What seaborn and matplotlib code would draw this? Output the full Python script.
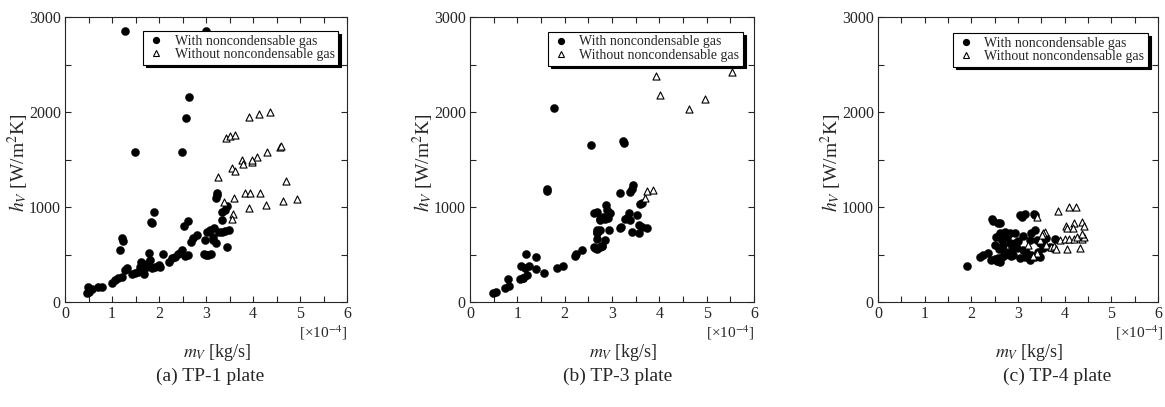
"""
plot.py - heat transfer coefficient vs vapour mass flow, three test plates.
"""

import matplotlib
matplotlib.use("Agg")
import pandas as pd
import matplotlib.pyplot as plt
import seaborn as sns
from matplotlib.lines import Line2D
from matplotlib.ticker import MultipleLocator

# m_V in units of 1e-4 kg/s, h_V in W/m2K

# TP-1 plate
tp1_with_x = [1.28, 3.00, 2.63, 2.57, 1.48, 2.49, 1.90, 1.83, 1.84, 1.22, 1.23, 1.16,
              2.61, 2.54, 2.80, 2.73, 2.68, 2.98, 2.96, 1.79, 2.09, 2.48, 2.45, 2.40,
              2.34, 2.27, 2.21, 2.61, 2.55, 1.99, 2.02, 1.91, 1.86, 1.81, 1.76, 1.70,
              1.62, 1.60, 1.55, 1.49, 1.42, 1.67, 1.63, 1.31, 1.28, 1.21, 1.13, 1.06,
              0.99, 0.78, 0.71, 0.57, 0.50, 0.48, 0.47, 3.23, 3.21, 3.24, 3.45, 3.40,
              3.35, 3.35, 3.16, 3.08, 3.01, 3.48, 3.41, 3.34, 3.27, 3.14, 3.14, 3.44,
              3.05, 3.10, 3.00, 3.22]
tp1_with_y = [2850, 2850, 2158, 1937, 1580, 1580, 951, 845, 830, 670, 645, 547,
              856, 796, 705, 670, 630, 653, 505, 512, 505, 547, 519, 505,
              477, 460, 425, 495, 484, 389, 372, 365, 354, 442, 407, 354,
              425, 372, 319, 302, 295, 295, 330, 354, 337, 266, 249, 232,
              197, 161, 154, 133, 109, 154, 91, 1126, 1100, 1143, 1011, 968,
              950, 863, 775, 758, 740, 758, 747, 740, 733, 688, 653, 582,
              490, 510, 500, 620]
tp1_without_x = [3.92, 4.13, 4.36, 3.43, 3.51, 3.62, 4.57, 4.59, 4.29, 4.08, 3.97, 3.98,
                 3.76, 3.79, 3.56, 3.62, 3.26, 4.70, 3.82, 3.94, 4.14, 3.60, 3.39, 3.92,
                 4.27, 4.63, 4.94, 3.58, 3.55]
tp1_without_y = [1944, 1979, 2003, 1730, 1747, 1761, 1635, 1640, 1582, 1530, 1477, 1495,
                 1495, 1453, 1407, 1382, 1312, 1277, 1144, 1144, 1151, 1091, 1056, 986,
                 1018, 1067, 1081, 926, 877]

# TP-3 plate
tp3_with_x = [1.78, 2.55, 3.24, 3.26, 1.62, 1.62, 3.45, 3.42, 3.38, 3.18, 3.59, 3.63,
              2.87, 2.89, 2.96, 2.82, 2.92, 2.85, 2.75, 3.35, 3.31, 3.27, 3.38, 3.52,
              3.20, 3.18, 2.94, 3.42, 3.58, 3.63, 3.73, 3.58, 2.85, 2.78, 2.75, 2.61,
              2.68, 2.75, 2.68, 2.68, 2.68, 2.68, 2.61, 2.64, 2.68, 2.75, 2.78, 2.22,
              2.25, 2.37, 1.83, 1.96, 1.56, 1.06, 1.13, 1.20, 1.16, 1.25, 1.18, 1.39,
              1.39, 1.07, 1.11, 0.81, 0.74, 0.83, 0.49, 0.56]
tp3_with_y = [2045, 1653, 1695, 1670, 1186, 1165, 1232, 1193, 1158, 1144, 1032, 1039,
              1021, 968, 933, 898, 884, 870, 870, 933, 884, 874, 863, 916,
              793, 775, 763, 740, 723, 793, 775, 811, 653, 590, 758, 933,
              951, 863, 740, 758, 723, 660, 579, 572, 561, 579, 586, 484,
              505, 547, 354, 379, 302, 239, 253, 288, 358, 383, 509, 474,
              351, 383, 253, 242, 147, 165, 91, 109]
tp3_without_x = [3.70, 3.75, 3.87, 3.94, 4.02, 4.62, 4.97, 5.53]
tp3_without_y = [1091, 1172, 1179, 2379, 2179, 2028, 2140, 2420]

# TP-4 plate
tp4_with_x = [1.91, 2.44, 2.47, 2.58, 2.61, 3.04, 3.08, 3.15, 3.36, 3.34, 2.19, 2.26,
              2.36, 2.43, 2.50, 2.58, 2.65, 2.72, 2.54, 2.61, 2.72, 2.65, 2.76, 2.83,
              2.94, 2.51, 2.69, 2.83, 2.94, 2.87, 2.97, 3.11, 3.18, 3.29, 3.04, 3.15,
              3.29, 3.36, 3.26, 3.40, 3.47, 3.54, 3.61, 3.69, 3.54, 3.43, 3.36, 3.26,
              3.47, 3.76, 3.80, 2.60, 2.70, 2.80, 2.90, 2.62, 2.55, 3.00, 3.10, 2.85]
tp4_with_y = [379, 874, 856, 835, 828, 916, 898, 926, 916, 930, 477, 495,
              512, 442, 449, 460, 477, 495, 688, 723, 740, 653, 688, 723,
              723, 600, 600, 617, 617, 565, 565, 547, 530, 495, 460, 477,
              723, 758, 653, 653, 617, 653, 670, 582, 565, 530, 477, 442,
              477, 565, 660, 560, 540, 520, 500, 420, 430, 640, 700, 480]
tp4_without_x = [3.86, 4.09, 4.25, 3.40, 4.03, 4.06, 4.21, 4.19, 4.38, 4.42, 3.58, 3.54,
                 3.91, 4.01, 4.09, 4.20, 4.27, 4.37, 4.42, 4.05, 4.34, 3.40, 3.33, 3.22,
                 3.60, 3.70, 3.78, 3.82, 3.47, 3.51, 4.37]
tp4_without_y = [958, 1004, 1004, 891, 800, 779, 828, 775, 842, 796, 740, 723,
                 653, 660, 660, 663, 680, 660, 688, 555, 565, 512, 484, 600,
                 600, 582, 590, 555, 653, 705, 716]

captions = ["(a) TP-1 plate", "(b) TP-3 plate", "(c) TP-4 plate"]
legend_labels = ["With noncondensable gas", "Without noncondensable gas"]

# Set style
sns.set_style("ticks")
plt.rcParams["font.family"] = ["Liberation Serif", "DejaVu Serif"]
plt.rcParams["mathtext.fontset"] = "stix"
plt.rcParams["axes.linewidth"] = 0.8

fig = plt.figure(figsize=(11.65, 4.07), dpi=100)

panels = [
    (tp1_with_x, tp1_with_y, tp1_without_x, tp1_without_y),
    (tp3_with_x, tp3_with_y, tp3_without_x, tp3_without_y),
    (tp4_with_x, tp4_with_y, tp4_without_x, tp4_without_y),
]
axes_rects = [
    [0.0558, 0.258, 0.2421, 0.700],
    [0.4034, 0.258, 0.2438, 0.700],
    [0.7536, 0.258, 0.2403, 0.700],
]
legend_anchor = [(0.968, 0.951), (0.961, 0.948), (0.964, 0.944)]
caption_x = [0.180, 0.530, 0.907]

handles = [
    Line2D([], [], ls="none", marker="o", color="black", markersize=4.2),
    Line2D([], [], ls="none", marker="^", mfc="white", mec="black",
           markersize=4.2, mew=0.8),
]

for i, (wx, wy, ox, oy) in enumerate(panels):
    ax = fig.add_axes(axes_rects[i])
    df_with = pd.DataFrame({"m": wx, "h": wy})
    df_without = pd.DataFrame({"m": ox, "h": oy})

    sns.scatterplot(data=df_with, x="m", y="h", ax=ax, marker="o",
                    color="black", s=34, edgecolor="black", linewidth=0.3)
    sns.scatterplot(data=df_without, x="m", y="h", ax=ax, marker="^",
                    facecolor="white", edgecolor="black", s=26, linewidth=0.8)

    ax.set_xlim(0, 6)
    ax.set_ylim(0, 3000)
    ax.xaxis.set_major_locator(MultipleLocator(1))
    ax.xaxis.set_minor_locator(MultipleLocator(0.5))
    ax.yaxis.set_major_locator(MultipleLocator(1000))
    ax.yaxis.set_minor_locator(MultipleLocator(500))
    ax.tick_params(which="both", direction="in", top=True, right=True,
                   length=4, width=0.8, labelsize=11.5, pad=3)
    for sp in ax.spines.values():
        sp.set_linewidth(0.8)

    ax.set_xlabel("$m_V$ [kg/s]", fontsize=13)
    ax.xaxis.set_label_coords(0.54, -0.14)
    ax.set_ylabel("$h_V$ [W/m$^2$K]", fontsize=14)
    ax.yaxis.set_label_coords(-0.12, 0.49)
    ax.text(1.0 if i < 2 else 1.02, -0.108, "[×10$^{-4}$]", transform=ax.transAxes,
            ha="right", va="center", fontsize=11)

    ax.legend(handles, legend_labels, loc="upper right",
              bbox_to_anchor=legend_anchor[i], borderaxespad=0,
              frameon=True, fancybox=False, edgecolor="black", framealpha=1,
              shadow={"facecolor": "black", "edgecolor": "black", "alpha": 1},
              fontsize=10, handlelength=1.3, handletextpad=0.7,
              labelspacing=0.05, borderpad=0.25)
    ax.get_legend().get_frame().set_linewidth(0.8)

    fig.text(caption_x[i], 0.076, captions[i], ha="center", va="center",
             fontsize=14)

fig.savefig("out.png", dpi=100)
plt.close(fig)
